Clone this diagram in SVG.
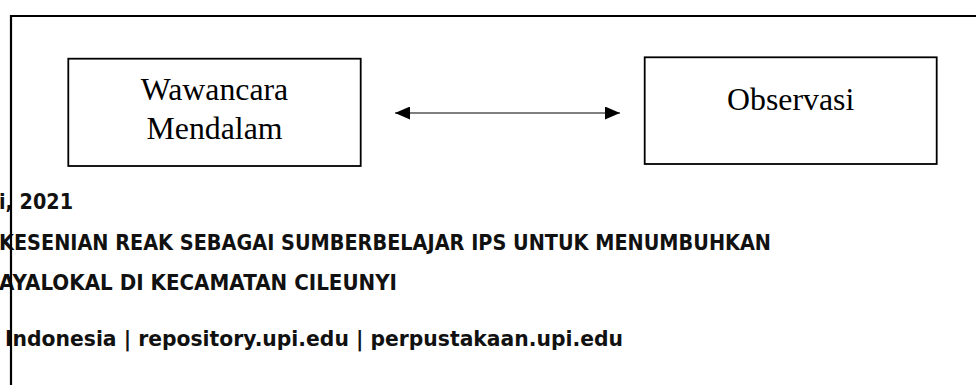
<svg xmlns="http://www.w3.org/2000/svg" width="976" height="385" viewBox="0 0 976 385">
<style>
.frame{fill:none;stroke:#000;stroke-width:2.2}
.box{fill:#fff;stroke:#000;stroke-width:1.8}
.lbl{font-family:"Liberation Serif","Times New Roman",serif;font-size:31.8px;fill:#000;text-anchor:middle}
.ft{font-family:"DejaVu Sans",Verdana,sans-serif;font-weight:bold;font-size:20.5px;fill:#111}
.conn{stroke:#000;stroke-width:1.2;fill:none}
</style>
<defs>
<marker id="ah" viewBox="0 0 15 13" refX="15" refY="6.5" markerWidth="15" markerHeight="13" markerUnits="userSpaceOnUse" orient="auto-start-reverse">
<path d="M0,0 L15,6.5 L0,13 z" fill="#000"/>
</marker>
</defs>
<rect width="976" height="385" fill="#fff"/>
<g id="footer-text">
<text class="ft" x="-1" y="209" textLength="74" lengthAdjust="spacingAndGlyphs">i, 2021</text>
<text class="ft" x="-1" y="250" textLength="772" lengthAdjust="spacingAndGlyphs">KESENIAN REAK SEBAGAI SUMBERBELAJAR IPS UNTUK MENUMBUHKAN</text>
<text class="ft" x="-1" y="290" textLength="398" lengthAdjust="spacingAndGlyphs">AYALOKAL DI KECAMATAN CILEUNYI</text>
<text class="ft" x="5" y="346" textLength="618" lengthAdjust="spacingAndGlyphs">Indonesia | repository.upi.edu | perpustakaan.upi.edu</text>
</g>
<g id="frame">
<path class="frame" d="M11,385 L11,16 L976,16"/>
</g>
<g id="node-wawancara">
<rect class="box" x="68.3" y="58.7" width="292.4" height="107.3"/>
<text class="lbl" x="214.5" y="100">Wawancara</text>
<text class="lbl" x="214.5" y="139">Mendalam</text>
</g>
<g id="node-observasi">
<rect class="box" x="644.7" y="57.3" width="292" height="106.7"/>
<text class="lbl" x="790.7" y="110">Observasi</text>
</g>
<g id="connectors">
<line class="conn" x1="395" y1="113" x2="620" y2="113" marker-start="url(#ah)" marker-end="url(#ah)"/>
</g>
</svg>
